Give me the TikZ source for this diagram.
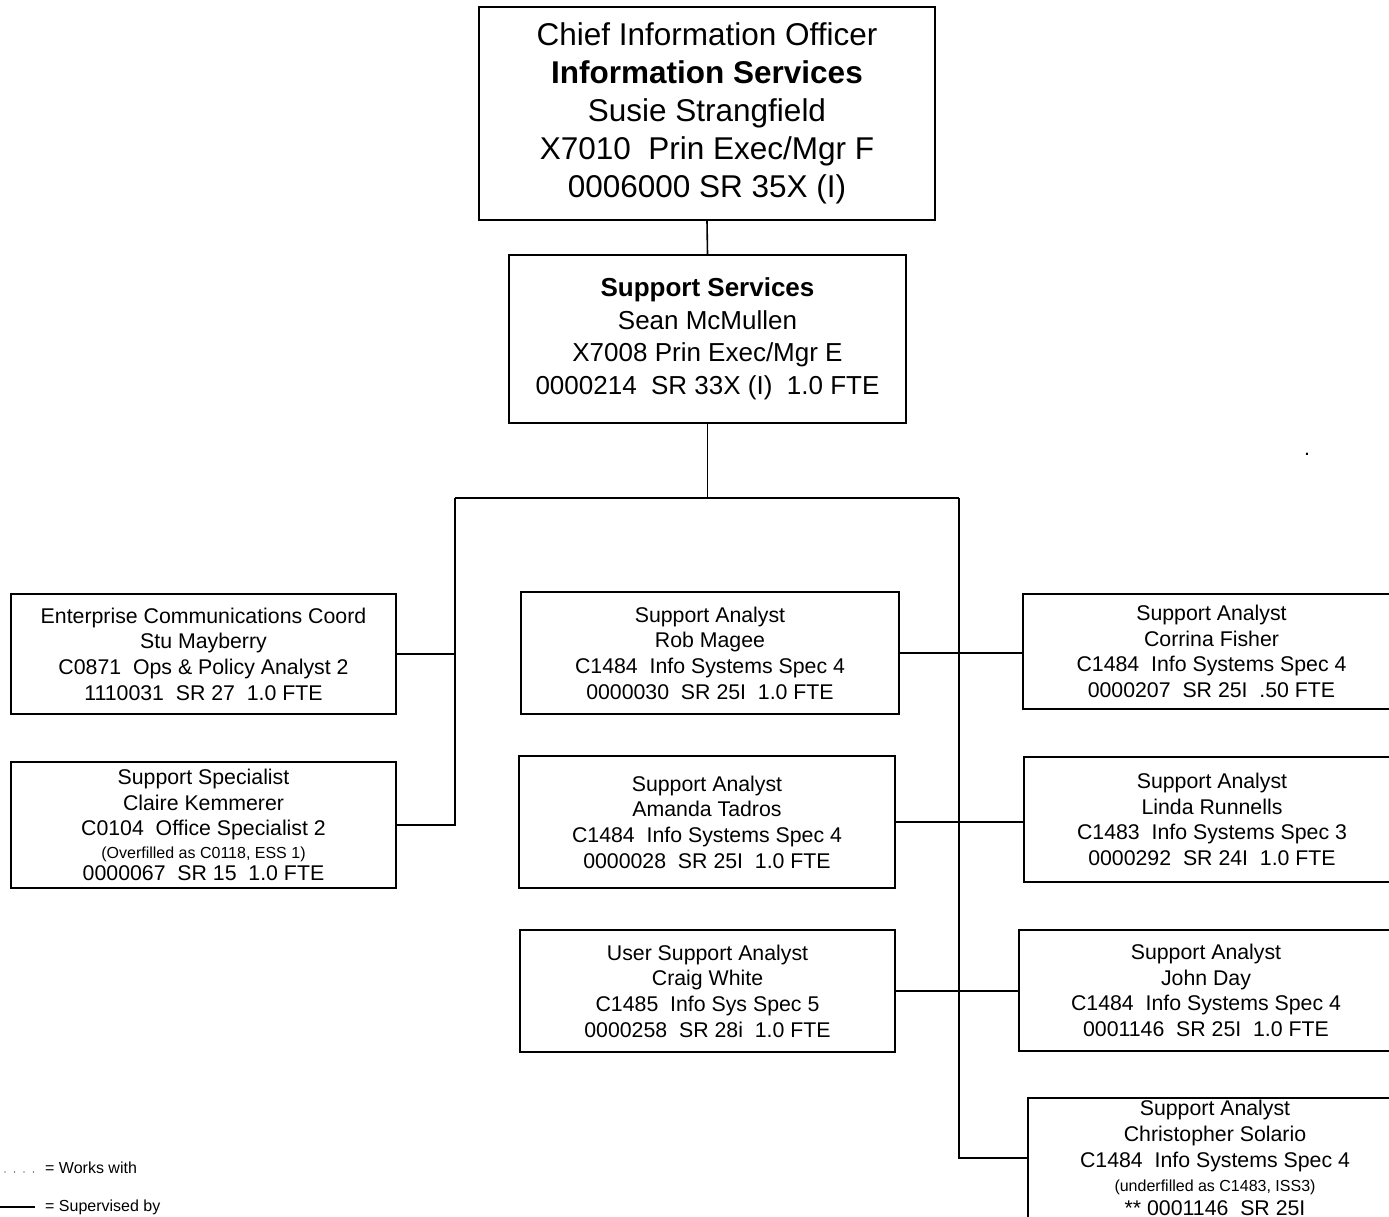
\documentclass[tikz,border=0pt]{standalone}
\usepackage{fontspec}
\setmainfont{Liberation Sans}
\begin{document}
\begin{tikzpicture}[x=1pt,y=-1pt,
  box/.style={draw, line width=1.6pt, inner sep=0pt, align=center},
  big/.style={font=\fontsize{31.5}{38}\selectfont},
  mid/.style={font=\fontsize{26}{32.5}\selectfont},
  small/.style={font=\fontsize{21.3}{25.6}\selectfont},
  conn/.style={line width=1.6pt},
  note/.style={font=\fontsize{16}{19}\selectfont}]
\useasboundingbox (0,0) rectangle (1389,1216);
\clip (0,0) rectangle (1389,1216);

\node[box,big,minimum width=456,minimum height=213] (cio) at (707,113.5)
 {Chief Information Officer\\ \textbf{Information Services}\\ Susie Strangfield\\ X7010~ Prin Exec/Mgr F\\ 0006000 SR 35X (I)};
\node[box,mid,minimum width=397,minimum height=168] (sup) at (707.5,339)
 {\textbf{Support Services}\\ Sean McMullen\\ X7008 Prin Exec/Mgr E\\ 0000214~ SR 33X (I)~ 1.0 FTE};

\node[box,small,minimum width=385,minimum height=120] (ent) at (203.5,654)
 {Enterprise Communications Coord\\ Stu Mayberry\\ C0871~ Ops \& Policy Analyst 2\\ 1110031~ SR 27~ 1.0 FTE};
\node[box,small,minimum width=385,minimum height=126] (cla) at (203.5,825)
 {Support Specialist\\ Claire Kemmerer\\ C0104~ Office Specialist 2\\[-2.5pt] {\fontsize{16}{19}\selectfont (Overfilled as C0118, ESS 1)}\\[-3.5pt] 0000067~ SR 15~ 1.0 FTE};

\node[box,small,minimum width=378,minimum height=122] (rob) at (710,653)
 {Support Analyst\\ Rob Magee\\ C1484~ Info Systems Spec 4\\ 0000030~ SR 25I~ 1.0 FTE};
\node[box,small,minimum width=376,minimum height=132] (ama) at (707,822)
 {Support Analyst\\ Amanda Tadros\\ C1484~ Info Systems Spec 4\\ 0000028~ SR 25I~ 1.0 FTE};
\node[box,small,minimum width=375,minimum height=122] (cra) at (707.5,991)
 {User Support Analyst\\ Craig White\\ C1485~ Info Sys Spec 5\\ 0000258~ SR 28i~ 1.0 FTE};

\node[box,small,minimum width=377,minimum height=115] (cor) at (1211.5,651.5)
 {Support Analyst\\ Corrina Fisher\\ C1484~ Info Systems Spec 4\\ 0000207~ SR 25I~ .50 FTE};
\node[box,small,minimum width=376,minimum height=125] (lin) at (1212,819.5)
 {Support Analyst\\ Linda Runnells\\ C1483~ Info Systems Spec 3\\ 0000292~ SR 24I~ 1.0 FTE};
\node[box,small,minimum width=374,minimum height=121] (joh) at (1206,990.5)
 {Support Analyst\\ John Day\\ C1484~ Info Systems Spec 4\\ 0001146~ SR 25I~ 1.0 FTE};
\node[box,small,minimum width=374,minimum height=120] (chr) at (1215,1158)
 {Support Analyst\\ Christopher Solario\\ C1484~ Info Systems Spec 4\\[-1pt] {\fontsize{16}{19}\selectfont (underfilled as C1483, ISS3)}\\[-2pt] ** 0001146~ SR 25I};

% connectors
\coordinate (hl) at (455,498);
\coordinate (hr) at (959,498);
\draw[conn] (cio.south) -- (sup.north);
\draw[conn] (sup.south) -- (sup.south |- hl);
\draw[conn] (hl) -- (hr);
\draw[conn] (hl) |- (cla.east);
\draw[conn] (ent.east) -- (ent.east -| hl);
\draw[conn] (hr) |- (chr.west);
\draw[conn] (rob.east) -- (rob.east -| cor.west);
\draw[conn] (ama.east) -- (ama.east -| lin.west);
\draw[conn] (cra.east) -- (cra.east -| joh.west);

% stray dot
\node[small,inner sep=0pt,anchor=base] (dot) at (1307,455) {.};

% legend
\coordinate (ld1) at (5,1172);
\coordinate (ld2) at (36,1172);
\draw[line width=1.3pt,line cap=round,dash pattern=on 0pt off 9.5pt] (ld1) -- (ld2);
\node[note,anchor=west,inner sep=0pt] (lw) at (45,1168) {= Works with};
\coordinate (ls1) at (0,1207);
\coordinate (ls2) at (35,1207);
\draw[conn] (ls1) -- (ls2);
\node[note,anchor=west,inner sep=0pt] (lsup) at (45,1207) {= Supervised by};
\end{tikzpicture}
\end{document}
